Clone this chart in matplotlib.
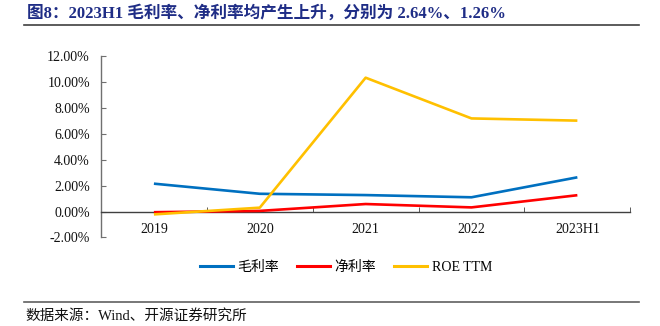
import matplotlib
matplotlib.use("Agg")
import matplotlib.pyplot as plt
from matplotlib.ticker import FuncFormatter, FixedLocator
from matplotlib.lines import Line2D

#------------------------------------------------------------------------------
# Datos
#------------------------------------------------------------------------------
periodos = ["2019", "2020", "2021", "2022", "2023H1"]
margen_bruto = [2.15, 1.37, 1.27, 1.10, 2.64]    # 毛利率 (%)
margen_neto = [-0.05, 0.05, 0.58, 0.32, 1.26]    # 净利率 (%)
roe_ttm = [-0.22, 0.30, 10.32, 7.18, 7.01]       # ROE TTM (%)
nombres = ["毛利率", "净利率", "ROE TTM"]
colores = ["#0070C0", "#FF0000", "#FFC000"]
yticks = [-2, 0, 2, 4, 6, 8, 10, 12]

titulo = "图8：2023H1 毛利率、净利率均产生上升，分别为 2.64%、1.26%"
fuente = "数据来源：Wind、开源证券研究所"

plt.rcParams['font.family'] = ['Liberation Serif', 'Noto Sans CJK SC', 'DejaVu Sans']

#------------------------------------------------------------------------------
# Figura
#------------------------------------------------------------------------------
fig = plt.figure(figsize=(6.6, 3.26), dpi=100)
ax = fig.add_axes([0.153, 0.2715, 0.802, 0.557])

x = list(range(len(periodos)))
for serie, color in zip([margen_bruto, margen_neto, roe_ttm], colores):
    ax.plot(x, serie, color=color, lw=1.9, solid_capstyle='butt', zorder=3)

ax.set_xlim(-0.5, len(periodos) - 0.5)
ax.set_ylim(-2, 12)
ax.set_yticks(yticks)
ax.yaxis.set_major_formatter(FuncFormatter(lambda v, p: f"{v:.2f}%"))

# eje x en el cero
for lado in ['top', 'right']:
    ax.spines[lado].set_visible(False)
ax.spines['bottom'].set_position(('data', 0))
ax.spines['bottom'].set_color('#404040')
ax.spines['left'].set_color('#707070')
ax.spines['bottom'].set_linewidth(1.0)
ax.spines['left'].set_linewidth(1.0)

ax.set_xticks(x)
ax.set_xticklabels(periodos)
ax.xaxis.set_minor_locator(FixedLocator([i + 0.5 for i in range(len(periodos))]))
ax.tick_params(axis='x', which='major', length=0, pad=8, labelsize=10, colors='#111111')
ax.tick_params(axis='x', which='minor', length=3.5, direction='in', color='#404040')
ax.tick_params(axis='y', length=3.5, direction='in', pad=8, labelsize=10,
               color='#707070', labelcolor='#111111')

# leyenda
handles = [Line2D([0], [0], color=c, lw=2.2) for c in colores]
fig.legend(handles, nombres, loc='center', bbox_to_anchor=(0.524, 0.179), ncol=3,
           frameon=False, fontsize=10, handlelength=2.4, handletextpad=0.3,
           columnspacing=1.3)

# titulo y fuente
fig.text(0.041, 0.958, titulo, fontsize=12, fontweight='bold', color='#1F2D86',
         ha='left', va='center')
fig.add_artist(Line2D([24 / 660, 639 / 660], [1 - 25.3 / 326, 1 - 25.3 / 326],
                      color='#404040', lw=1.2, transform=fig.transFigure))
fig.add_artist(Line2D([24 / 660, 639 / 660], [1 - 302 / 326, 1 - 302 / 326],
                      color='#606060', lw=1.2, transform=fig.transFigure))
fig.text(0.038, 1 - 316 / 326, fuente, fontsize=10.5, color='#111111', ha='left', va='center')

fig.savefig("out.png", dpi=100)
